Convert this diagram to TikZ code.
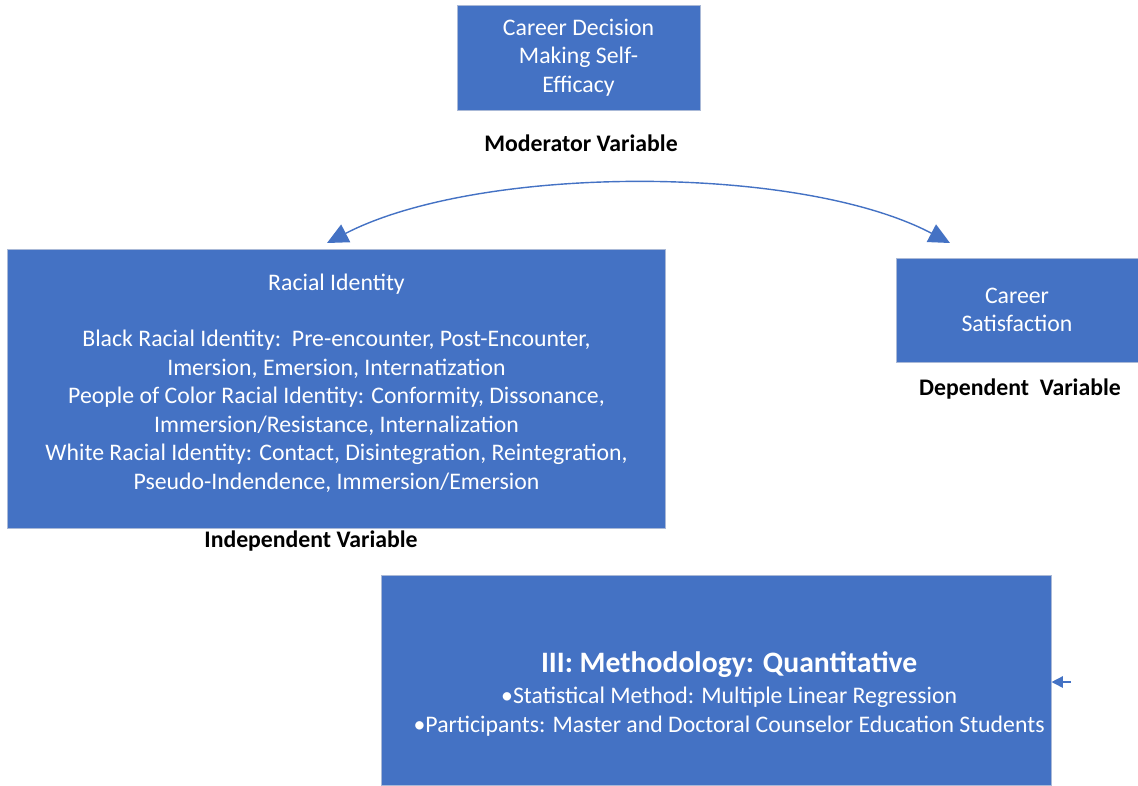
\documentclass[tikz,border=0pt]{standalone}
\usepackage{fontspec}
\setmainfont{Carlito}
\usetikzlibrary{arrows.meta, positioning}
\definecolor{officeblue}{RGB}{68,114,196}
\definecolor{boxedge}{RGB}{170,185,215}

\begin{document}
\begin{tikzpicture}[x=0.025cm, y=-0.025cm, >={Triangle[length=15pt, width=14pt]},
    varbox/.style={fill=officeblue, draw=boxedge, line width=0.6pt, text=white,
        align=center, inner sep=0pt, font=\fontsize{16.9}{20.2}\selectfont},
    varlabel/.style={font=\fontsize{16.9}{20}\selectfont\bfseries}]
    \useasboundingbox (0,0) rectangle (1138,785);

    % Moderator
    \node[varbox, minimum width=6.075cm, minimum height=2.625cm] (moderator) at (578.5,57.5)
        {Career Decision\\Making Self-\\Efficacy};
    \node[varlabel] (modlabel) at (581,143) {Moderator Variable};

    % Independent variable
    \node[varbox, minimum width=16.425cm, minimum height=6.975cm] (racial) at (336.5,388.5)
        {Racial Identity\\[20.2pt]
         Black Racial Identity:\ \ Pre-encounter, Post-Encounter,\\
         Imersion, Emersion, Internatization\\
         People of Color Racial Identity: Conformity, Dissonance,\\
         Immersion/Resistance, Internalization\\
         White Racial Identity: Contact, Disintegration, Reintegration,\\
         Pseudo-Indendence, Immersion/Emersion\\[-10pt]};
    \node[varlabel] (indlabel) at (311,541) {Independent Variable};

    % Dependent variable
    \node[varbox, minimum width=6.05cm, minimum height=2.6cm] (satisfaction) at (1017,310)
        {Career\\Satisfaction};
    \node[varlabel] (deplabel) at (1020,389) {Dependent\ \ Variable};

    % Methodology
    \node[varbox, minimum width=16.725cm, minimum height=5.25cm] (method) at (716.5,680)
        {\hspace{18pt}{\fontsize{21.1}{25}\selectfont\bfseries III: Methodology: Quantitative}\\[2pt]
         \hspace{18pt}\textbullet Statistical Method: Multiple Linear Regression\\
         \hspace{18pt}\textbullet Participants: Master and Doctoral Counselor Education Students\\[-37pt]};

    % Connectors
    \coordinate (tipL) at (327,243);
    \coordinate (tipR) at (950,243);
    \draw[<->, officeblue, line width=1pt] (tipL) .. controls (480,164) and (800,164) .. (tipR);

    \coordinate (stub) at (1071,682);
    \draw[->, officeblue, line width=1pt, >={Triangle[length=8pt, width=8pt]}] (stub) -- (method.east |- stub);
\end{tikzpicture}
\end{document}
